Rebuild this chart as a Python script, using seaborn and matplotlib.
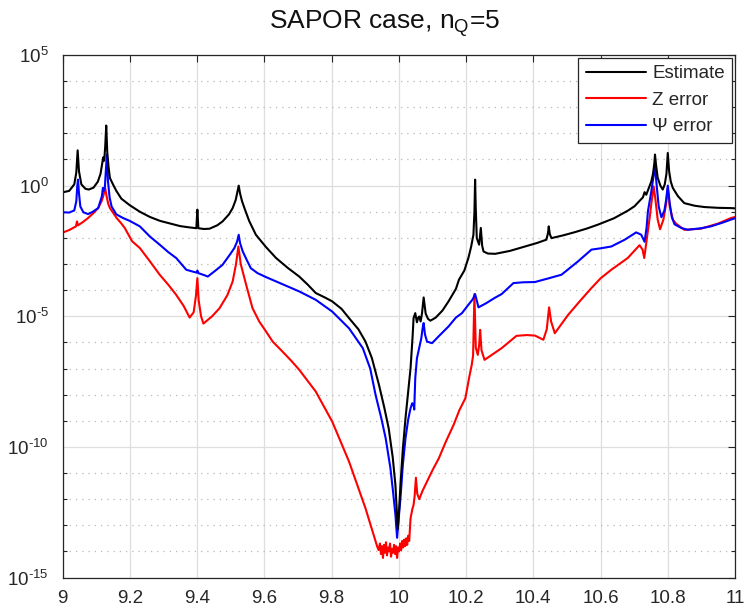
import numpy as np
import pandas as pd
import matplotlib
matplotlib.use("Agg")
import matplotlib.pyplot as plt
from matplotlib.lines import Line2D
from matplotlib.ticker import FixedLocator, NullFormatter
import seaborn as sns

# ---------------- data (x, log10 of value) ----------------
est_x = [9.000, 9.020, 9.035, 9.041, 9.045, 9.049, 9.056, 9.068, 9.078, 9.092,
         9.105, 9.113, 9.118, 9.121, 9.124, 9.127, 9.130, 9.133, 9.137, 9.141,
         9.150, 9.160, 9.175, 9.200, 9.230, 9.260, 9.290, 9.320, 9.350, 9.378,
         9.398, 9.401, 9.404, 9.420, 9.437, 9.460, 9.476, 9.495, 9.506, 9.515,
         9.520, 9.524, 9.528, 9.534, 9.541, 9.555, 9.575, 9.605, 9.635, 9.670,
         9.704, 9.730, 9.753, 9.780, 9.802, 9.830, 9.852, 9.880, 9.901, 9.920,
         9.941, 9.957, 9.970, 9.982, 9.990, 9.997, 10.001, 10.005, 10.012, 10.020,
         10.028, 10.035, 10.041, 10.044, 10.049, 10.054, 10.058, 10.061, 10.065, 10.069,
         10.074, 10.080, 10.087, 10.094, 10.110, 10.130, 10.148, 10.170, 10.179, 10.195,
         10.207, 10.215, 10.222, 10.225, 10.227, 10.229, 10.232, 10.239, 10.244, 10.248,
         10.252, 10.265, 10.287, 10.330, 10.376, 10.410, 10.439, 10.444, 10.446, 10.449,
         10.454, 10.490, 10.524, 10.560, 10.593, 10.640, 10.681, 10.701, 10.726, 10.731,
         10.736, 10.745, 10.751, 10.756, 10.760, 10.762, 10.765, 10.770, 10.778, 10.785,
         10.791, 10.796, 10.800, 10.804, 10.809, 10.815, 10.830, 10.849, 10.880, 10.909,
         10.950, 10.988, 11.000]
est_log = [-0.26, -0.20, 0.05, 0.50, 1.35, 0.55, 0.05, -0.12, -0.15, -0.08,
           0.15, 0.45, 0.85, 1.08, 0.95, 1.50, 2.30, 1.30, 0.70, 0.29,
           0.05, -0.20, -0.50, -0.75, -1.00, -1.20, -1.35, -1.45, -1.55, -1.60,
           -1.63, -0.92, -1.63, -1.66, -1.65, -1.52, -1.37, -1.10, -0.86, -0.55,
           -0.25, 0.00, -0.30, -0.60, -0.86, -1.35, -1.88, -2.35, -2.77, -3.15,
           -3.48, -3.80, -4.11, -4.28, -4.43, -4.72, -5.07, -5.50, -5.97, -6.60,
           -7.62, -8.50, -9.29, -10.40, -11.46, -13.15, -12.40, -11.46, -10.10, -8.90,
           -7.90, -6.99, -5.80, -5.07, -4.88, -5.23, -5.05, -5.01, -5.20, -4.90,
           -4.28, -4.90, -5.10, -5.17, -5.05, -4.78, -4.43, -3.95, -3.60, -3.25,
           -2.77, -2.35, -1.88, -1.00, 0.23, -0.90, -2.01, -2.26, -1.62, -2.30,
           -2.52, -2.60, -2.61, -2.50, -2.33, -2.20, -2.07, -1.80, -1.56, -1.85,
           -2.01, -1.90, -1.78, -1.64, -1.49, -1.25, -0.96, -0.79, -0.45, -0.25,
           -0.35, -0.05, 0.16, 0.45, 0.85, 1.19, 0.80, 0.30, 0.00, -0.15,
           0.05, 0.45, 1.25, 0.55, 0.15, -0.09, -0.40, -0.67, -0.77, -0.82,
           -0.85, -0.86, -0.87]

psi_x = [9.000, 9.020, 9.035, 9.041, 9.044, 9.046, 9.049, 9.053, 9.062, 9.076,
         9.090, 9.106, 9.117, 9.120, 9.123, 9.126, 9.129, 9.132, 9.135, 9.140,
         9.146, 9.160, 9.180, 9.200, 9.230, 9.260, 9.289, 9.315, 9.338, 9.368,
         9.390, 9.399, 9.401, 9.404, 9.420, 9.432, 9.455, 9.476, 9.500, 9.511,
         9.519, 9.524, 9.528, 9.536, 9.548, 9.560, 9.580, 9.605, 9.650, 9.704,
         9.753, 9.802, 9.852, 9.893, 9.915, 9.931, 9.948, 9.961, 9.975, 9.983,
         9.990, 9.995, 10.000, 10.005, 10.012, 10.020, 10.028, 10.035, 10.040, 10.044,
         10.046, 10.049, 10.054, 10.067, 10.071, 10.074, 10.078, 10.084, 10.099, 10.120,
         10.148, 10.170, 10.188, 10.207, 10.220, 10.227, 10.232, 10.237, 10.260, 10.285,
         10.306, 10.341, 10.370, 10.405, 10.445, 10.484, 10.533, 10.573, 10.600, 10.632,
         10.672, 10.706, 10.721, 10.731, 10.737, 10.741, 10.750, 10.757, 10.762, 10.767,
         10.773, 10.781, 10.790, 10.795, 10.800, 10.806, 10.812, 10.820, 10.840, 10.859,
         10.900, 10.928, 10.960, 10.988, 11.000]
psi_log = [-1.02, -1.03, -0.95, -0.60, 0.00, 0.23, -0.30, -0.80, -1.02, -1.09,
           -1.00, -0.86, -0.41, -0.09, -0.20, -0.05, 0.60, 1.19, 0.20, -0.45,
           -0.80, -1.10, -1.24, -1.35, -1.56, -1.95, -2.26, -2.55, -2.77, -3.22,
           -3.30, -3.33, -3.25, -3.35, -3.42, -3.48, -3.25, -3.03, -2.60, -2.39,
           -2.15, -1.88, -2.20, -2.52, -2.85, -3.16, -3.35, -3.50, -3.75, -4.05,
           -4.37, -4.82, -5.46, -6.22, -7.00, -8.01, -8.90, -9.67, -10.80, -11.72,
           -12.60, -13.48, -12.70, -11.97, -10.70, -9.67, -8.95, -8.52, -8.33, -8.39,
           -8.57, -7.37, -6.61, -5.84, -5.45, -5.26, -5.70, -5.97, -6.03, -5.75,
           -5.39, -5.05, -4.88, -4.56, -4.35, -4.15, -4.40, -4.66, -4.50, -4.30,
           -4.15, -3.73, -3.70, -3.69, -3.55, -3.41, -2.90, -2.45, -2.40, -2.33,
           -2.07, -1.79, -1.88, -2.15, -1.60, -0.98, -0.30, 0.30, 0.74, 0.00,
           -0.80, -1.21, -0.95, -0.55, 0.00, -0.70, -1.20, -1.48, -1.62, -1.69,
           -1.63, -1.56, -1.43, -1.30, -1.25]

z_x = [9.000, 9.020, 9.040, 9.043, 9.046, 9.060, 9.076, 9.092, 9.106, 9.116,
       9.121, 9.124, 9.127, 9.131, 9.136, 9.141, 9.151, 9.161, 9.175, 9.185,
       9.207, 9.230, 9.260, 9.289, 9.315, 9.338, 9.360, 9.378, 9.390, 9.397,
       9.401, 9.405, 9.412, 9.419, 9.445, 9.467, 9.490, 9.506, 9.516, 9.523,
       9.530, 9.546, 9.565, 9.585, 9.605, 9.625, 9.654, 9.680, 9.704, 9.753,
       9.802, 9.852, 9.901, 9.936, 9.940, 9.944, 9.947, 9.950, 9.953, 9.956,
       9.959, 9.962, 9.965, 9.968, 9.971, 9.974, 9.977, 9.980, 9.983, 9.986,
       9.989, 9.992, 9.995, 9.998, 10.001, 10.004, 10.007, 10.010, 10.013, 10.016,
       10.019, 10.022, 10.025, 10.028, 10.031, 10.035, 10.040, 10.044, 10.047, 10.051,
       10.055, 10.061, 10.070, 10.079, 10.100, 10.119, 10.140, 10.163, 10.180, 10.198,
       10.210, 10.217, 10.221, 10.225, 10.229, 10.235, 10.239, 10.242, 10.246, 10.255,
       10.280, 10.306, 10.350, 10.380, 10.405, 10.430, 10.440, 10.447, 10.453, 10.464,
       10.504, 10.540, 10.573, 10.600, 10.632, 10.681, 10.716, 10.725, 10.730, 10.735,
       10.746, 10.752, 10.758, 10.763, 10.770, 10.777, 10.787, 10.795, 10.800, 10.806,
       10.815, 10.825, 10.849, 10.898, 10.950, 10.988, 11.000]
z_log = [-1.80, -1.70, -1.56, -1.37, -1.52, -1.40, -1.24, -1.05, -0.86, -0.60,
         -0.41, -0.25, -0.10, -0.40, -0.70, -0.86, -1.05, -1.24, -1.45, -1.62,
         -2.13, -2.39, -2.90, -3.41, -3.80, -4.18, -4.60, -5.05, -4.85, -4.20,
         -3.54, -4.40, -5.00, -5.28, -5.00, -4.69, -4.20, -3.67, -3.00, -2.33,
         -3.00, -3.79, -4.69, -5.20, -5.58, -5.97, -6.35, -6.70, -7.05, -7.88,
         -9.03, -10.56, -12.35, -13.82, -13.95, -13.70, -14.10, -13.80, -14.25, -13.75,
         -14.05, -13.65, -14.15, -13.85, -14.00, -13.70, -14.20, -13.90, -14.05, -13.75,
         -14.10, -13.80, -14.25, -13.85, -14.00, -13.70, -13.95, -13.60, -13.85, -13.55,
         -13.80, -13.50, -13.75, -13.40, -13.60, -12.74, -12.40, -12.22, -11.90, -11.18,
         -11.80, -12.00, -11.70, -11.46, -10.90, -10.44, -9.80, -9.16, -8.60, -8.14,
         -7.30, -6.86, -6.50, -4.15, -6.20, -6.48, -6.10, -5.52, -6.30, -6.67,
         -6.45, -6.22, -5.75, -5.72, -5.74, -5.90, -5.50, -4.66, -5.20, -5.65,
         -4.94, -4.40, -3.92, -3.55, -3.22, -2.77, -2.28, -2.45, -2.77, -2.30,
         -1.24, -0.60, -0.03, -0.50, -1.30, -1.67, -1.30, -0.70, -0.10, -0.80,
         -1.30, -1.46, -1.69, -1.65, -1.45, -1.24, -1.20]

series_names = ["Estimate", "Z error", "\u03a8 error"]
series_colors = ["#000000", "#ff0000", "#0000ff"]
x_tick_values = [9.0, 9.2, 9.4, 9.6, 9.8, 10.0, 10.2, 10.4, 10.6, 10.8, 11.0]
x_tick_labels = ["9", "9.2", "9.4", "9.6", "9.8", "10", "10.2", "10.4", "10.6", "10.8", "11"]
y_tick_exps = [-15, -10, -5, 0, 5]
y_tick_labels = ["10$^{\\text{-}15}$", "10$^{\\text{-}10}$", "10$^{\\text{-}5}$",
                 "10$^{0}$", "10$^{5}$"]

# ---------------- build frame ----------------
frames = []
for name, xs, ls in [("Estimate", est_x, est_log),
                     ("Z error", z_x, z_log),
                     ("\u03a8 error", psi_x, psi_log)]:
    frames.append(pd.DataFrame({"x": xs, "y": np.power(10.0, np.array(ls)),
                                "series": name}))
df = pd.concat(frames, ignore_index=True)

# ---------------- style ----------------
sns.set_style("white")
plt.rcParams["font.family"] = ["Liberation Sans", "DejaVu Sans"]
plt.rcParams["mathtext.fontset"] = "custom"
plt.rcParams["mathtext.rm"] = "Liberation Sans"
plt.rcParams["mathtext.it"] = "Liberation Sans:italic"
plt.rcParams["mathtext.default"] = "regular"
plt.rcParams["axes.unicode_minus"] = False

fig = plt.figure(figsize=(7.46, 6.11), dpi=100)
fig.patch.set_facecolor("white")
ax = fig.add_axes([0.0838, 0.0548, 0.9853 - 0.0838, 0.910 - 0.0548])

palette = dict(zip(series_names, series_colors))
for name in ["Z error", "\u03a8 error", "Estimate"]:
    sns.lineplot(data=df[df["series"] == name], x="x", y="y", color=palette[name],
                 estimator=None, sort=False, lw=1.5, ax=ax, legend=False)

ax.set_yscale("log")
ax.set_xlim(9, 11)
ax.set_ylim(1e-15, 1e5)
ax.set_xticks(x_tick_values)
ax.set_xticklabels(x_tick_labels)
ax.set_yticks([10.0 ** e for e in y_tick_exps])
ax.set_yticklabels(y_tick_labels)
ax.yaxis.set_minor_locator(FixedLocator([10.0 ** k for k in range(-15, 6) if k % 5]))
ax.yaxis.set_minor_formatter(NullFormatter())
ax.set_xlabel("")
ax.set_ylabel("")

ax.grid(True, which="major", axis="both", color="#dedede", lw=0.9, ls="-")
ax.grid(True, which="minor", axis="y", color="#b8b8b8", lw=0.9, ls=(0, (1, 4)))
ax.set_axisbelow(True)

for s in ax.spines.values():
    s.set_color("#262626")
    s.set_linewidth(0.9)
    s.set_visible(True)

ax.tick_params(which="major", direction="in", top=True, right=True, length=5,
               width=0.8, color="#262626", labelsize=13.5, labelcolor="#262626")
ax.tick_params(axis="x", which="major", pad=9)
ax.tick_params(axis="y", which="major", pad=10)
ax.tick_params(which="minor", direction="in", left=True, right=True, length=3,
               width=0.8, color="#262626")
ax.tick_params(axis="x", which="minor", bottom=False, top=False)

ax.set_title("SAPOR case, n$_{Q}$=5", fontsize=19, color="#111111", pad=19, x=0.479)

handles = [Line2D([0], [0], color=c, lw=1.5) for c in series_colors]
leg = ax.legend(handles, series_names, loc="upper right", fontsize=13.5,
                frameon=True, fancybox=False, framealpha=1, edgecolor="#262626",
                handlelength=3.2, handletextpad=0.35, labelspacing=0.5,
                borderpad=0.4, borderaxespad=0.15)
leg.get_frame().set_linewidth(0.9)

fig.savefig("out.png", dpi=100, facecolor="white")
